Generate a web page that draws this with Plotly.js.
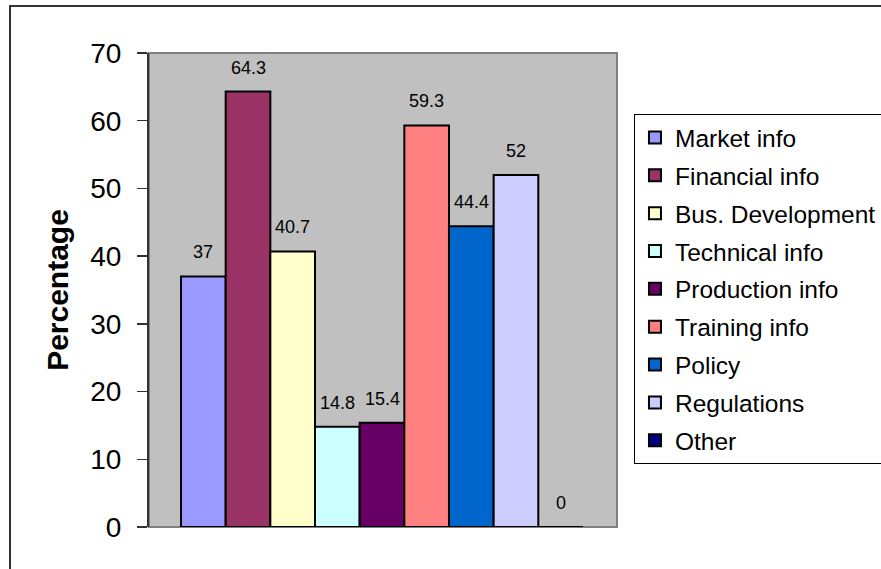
<!DOCTYPE html>
<html>
<head>
<meta charset="utf-8">
<script src="https://cdn.plot.ly/plotly-3.0.1.min.js"></script>
<style>
  html, body { margin: 0; padding: 0; background: #ffffff; }
  #chart { width: 881px; height: 569px; }
</style>
</head>
<body>
<div id="chart"></div>
<script>
// ---- data ----
const categories = ["Market info", "Financial info", "Bus. Development", "Technical info",
                    "Production info", "Training info", "Policy", "Regulations", "Other"];
const values = [37, 64.3, 40.7, 14.8, 15.4, 59.3, 44.4, 52, 0];
const valueLabels = ["37", "64.3", "40.7", "14.8", "15.4", "59.3", "44.4", "52", "0"];
const colors = ["#9999FF", "#993366", "#FFFFCC", "#CCFFFF", "#660066",
                "#FF8080", "#0066CC", "#CCCCFF", "#000080"];
const yTicks = [0, 10, 20, 30, 40, 50, 60, 70];

const FONT = "Arial, 'Liberation Sans', sans-serif";

const traces = categories.map((name, i) => ({
  type: "bar",
  name: name,
  x: [i],
  y: [values[i]],
  width: 1,
  legendgroup: "g" + i,
  marker: { color: colors[i], line: { color: "#000000", width: 2 } },
  hoverinfo: "name+y"
}));

const annotations = categories.map((name, i) => ({
  x: i, y: values[i], xref: "x", yref: "y",
  text: valueLabels[i],
  showarrow: false,
  yanchor: "middle",
  yshift: 24,
  font: { family: FONT, size: 18, color: "#000000" }
}));

const layout = {
  width: 881,
  height: 569,
  margin: { l: 149, r: 264, t: 53, b: 42, autoexpand: false },
  paper_bgcolor: "#ffffff",
  plot_bgcolor: "#c0c0c0",
  barmode: "overlay",
  showlegend: true,
  font: { family: FONT, color: "#000000" },
  xaxis: {
    range: [-1.217, 9.262],
    showticklabels: false,
    ticks: "",
    showgrid: false,
    zeroline: false,
    showline: false,
    fixedrange: true
  },
  yaxis: {
    range: [0, 70],
    tickvals: yTicks,
    ticktext: yTicks.map(String),
    ticks: "outside",
    ticklen: 10,
    tickwidth: 1.5,
    tickcolor: "#333333",
    ticklabelstandoff: 10,
    tickfont: { family: FONT, size: 28, color: "#000000" },
    showgrid: false,
    zeroline: false,
    showline: true,
    linecolor: "#333333",
    linewidth: 2,
    title: { text: "Percentage", standoff: 13,
             font: { family: FONT, size: 30, color: "#000000", weight: "bold" } },
    fixedrange: true
  },
  legend: {
    xref: "container", yref: "container",
    x: 0.7196, y: 0.7996, xanchor: "left", yanchor: "top",
    maxheight: 450,
    bgcolor: "#ffffff",
    bordercolor: "#000000",
    borderwidth: 1,
    traceorder: "grouped",
    tracegroupgap: 3,
    font: { family: FONT, size: 24.5, color: "#000000" }
  },
  shapes: [
    { type: "rect", xref: "paper", yref: "paper", x0: 0, x1: 1, y0: 0, y1: 1,
      line: { color: "#808080", width: 2 }, layer: "below" },
    { type: "rect", xref: "paper", yref: "paper", x0: -0.297, x1: 1.7, y0: -0.3, y1: 1.099,
      line: { color: "#333333", width: 2 }, fillcolor: "rgba(0,0,0,0)", layer: "below" }
  ],
  annotations: annotations
};

Plotly.newPlot("chart", traces, layout, { displayModeBar: false, staticPlot: true });
</script>
</body>
</html>
